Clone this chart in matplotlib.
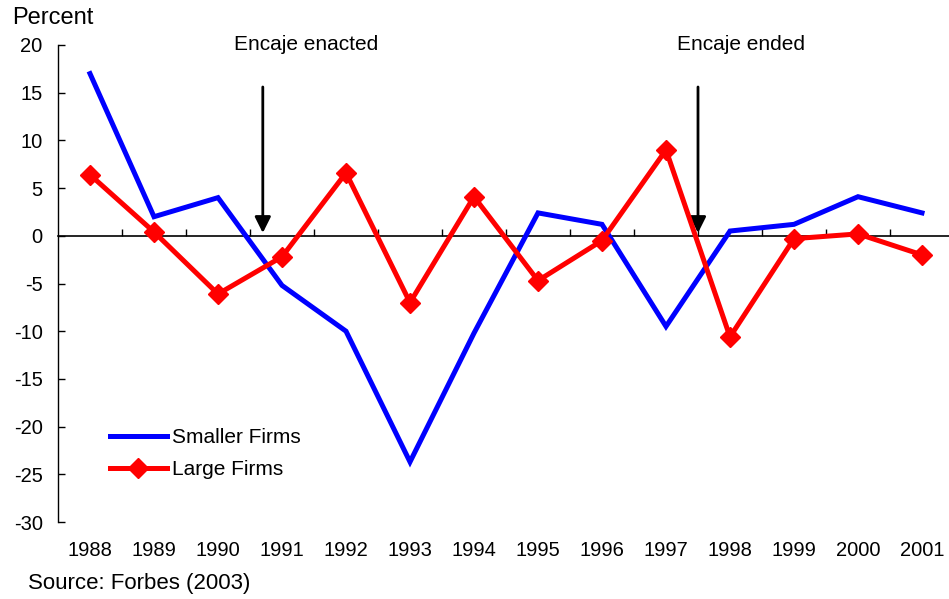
import matplotlib
matplotlib.use("Agg")
import matplotlib.pyplot as plt
import matplotlib.transforms as mtransforms

plt.rcParams['font.family'] = ['Liberation Sans', 'DejaVu Sans']

years = ["1988", "1989", "1990", "1991", "1992", "1993", "1994",
         "1995", "1996", "1997", "1998", "1999", "2000", "2001"]
smaller_firms = [17.0, 2.0, 4.0, -5.2, -10.0, -23.7, -10.2,
                 2.4, 1.2, -9.5, 0.5, 1.2, 4.1, 2.4]
large_firms = [6.4, 0.4, -6.1, -2.2, 6.6, -7.0, 4.1,
               -4.7, -0.5, 9.0, -10.6, -0.3, 0.2, -2.0]
y_ticks = [20, 15, 10, 5, 0, -5, -10, -15, -20, -25, -30]
event_labels = ["Encaje enacted", "Encaje ended"]
event_positions = [2.7, 9.5]  # category-axis positions of the arrows

W, H = 949, 599
fig = plt.figure(figsize=(W / 100, H / 100), dpi=100)
ax = fig.add_axes([58 / W, 77 / H, 896 / W, 477 / H])

x = list(range(len(years)))
ax.plot(x, smaller_firms, color='#0000FF', lw=3.6, solid_joinstyle='miter',
        label='Smaller Firms', zorder=3)
ax.plot(x, large_firms, color='#FF0000', lw=3.6, marker='D', markersize=10,
        label='Large Firms', zorder=4)

ax.set_xlim(-0.5, len(years) - 0.5)
ax.set_ylim(-30, 20)

for s in ['top', 'right']:
    ax.spines[s].set_visible(False)
ax.spines['bottom'].set_position(('data', 0))
ax.spines['bottom'].set_linewidth(1.2)
ax.spines['left'].set_linewidth(1.0)

ax.set_yticks(y_ticks)
ax.set_yticklabels([str(v) for v in y_ticks], fontsize=14.5)
ax.tick_params(axis='y', direction='in', length=5, width=1, pad=11)
ax.set_xticks([i + 0.5 for i in range(len(years) - 1)])
ax.set_xticklabels([])
ax.tick_params(axis='x', direction='in', length=5, width=1)

trans = mtransforms.blended_transform_factory(ax.transData, ax.transAxes)
for i, yr in enumerate(years):
    ax.text(i, -0.06, yr, transform=trans, ha='center', va='center', fontsize=14.5)

for lab, pos in zip(event_labels, event_positions):
    ax.annotate('', xy=(pos, 0.3), xytext=(pos, 15.6),
                arrowprops=dict(arrowstyle='-|>', color='black', lw=2,
                                mutation_scale=24, shrinkA=0, shrinkB=0))
    ax.text(pos + 0.67, 20.0, lab, ha='center', va='center', fontsize=15)

fig.text(12 / W, 1 - 18 / H, 'Percent', fontsize=17, ha='left', va='center')
fig.text(28 / W, 1 - 584 / H, 'Source: Forbes (2003)', fontsize=16,
         ha='left', va='center')

leg = ax.legend(loc='upper left', bbox_to_anchor=(44 / 896, 1 - (420 - 45) / 477),
                frameon=False, fontsize=15, handlelength=2.7, handletextpad=0.25,
                labelspacing=0.6, borderaxespad=0)

fig.savefig('out.png', dpi=100)
